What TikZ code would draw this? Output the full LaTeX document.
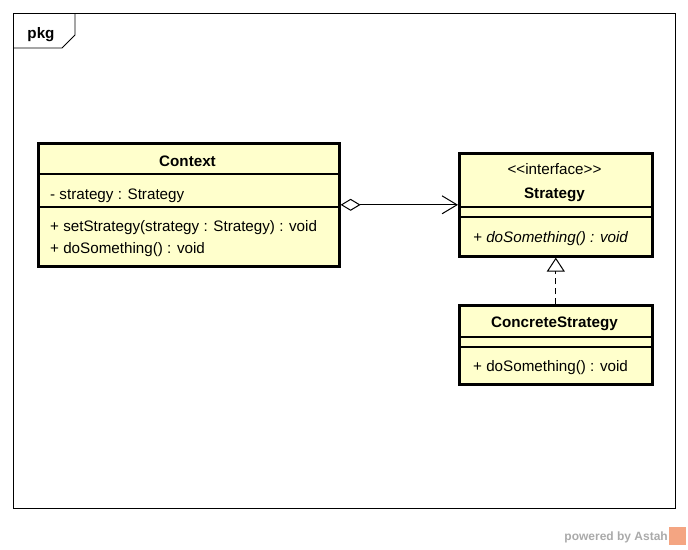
\documentclass[tikz,border=0pt]{standalone}
\usepackage{fontspec}
\setmainfont{Liberation Sans}[Ligatures=TeXOff]
\usetikzlibrary{arrows.meta}
\definecolor{classfill}{HTML}{FFFFCC}
\definecolor{astahgray}{HTML}{AAAAAA}
\definecolor{astahorange}{HTML}{F4A582}
\tikzset{
  classbox/.style={draw=black, line width=2.6pt, fill=classfill, inner sep=0pt, anchor=north west},
  sepline/.style={draw=black, line width=1.3pt},
  frameline/.style={draw=black, line width=0.9pt},
  umltext/.style={inner sep=0pt, font=\fontsize{15.2}{18}\selectfont},
  umltitle/.style={inner sep=0pt, font=\bfseries\fontsize{15.2}{18}\selectfont},
  umlital/.style={inner sep=0pt, font=\itshape\fontsize{15.2}{18}\selectfont},
  assoc/.style={draw=black, line width=1pt},
  realize/.style={draw=black, line width=1pt, dash pattern=on 6pt off 4pt}
}
\begin{document}
\begin{tikzpicture}[x=1pt,y=-1pt]
\useasboundingbox (0,0) rectangle (688,549);
% package frame
\draw[frameline] (13,13) rectangle (675,508);
\draw[frameline] (13,48) -- (62,48) -- (75,35) -- (75,13);
\node[umltitle, anchor=base] (pkg) at (41,38) {pkg};

% Context class
\node[classbox, minimum width=301pt, minimum height=123pt] (ctx) at (37,142) {};
\draw[sepline] (ctx.west |- 0,174) -- (ctx.east |- 0,174);
\draw[sepline] (ctx.west |- 0,207) -- (ctx.east |- 0,207);
\node[umltitle, anchor=base] (ctxname) at (187.5,166) {Context};
\node[umltext, anchor=base west] (ctxattr) at (50,199) {- strategy : Strategy};
\node[umltext, anchor=base west] (ctxop1) at (50,231) {+ setStrategy(strategy : Strategy) : void};
\node[umltext, anchor=base west] (ctxop2) at (50,253) {+ doSomething() : void};

% Strategy interface
\node[classbox, minimum width=193pt, minimum height=103pt] (str) at (458,152) {};
\draw[sepline] (str.west |- 0,207) -- (str.east |- 0,207);
\draw[sepline] (str.west |- 0,217) -- (str.east |- 0,217);
\node[umltext, anchor=base] (strstereo) at (554.5,174) {<<interface>>};
\node[umltitle, anchor=base] (strname) at (554.5,198) {Strategy};
\node[umlital, anchor=base west] (strop) at (473,242) {+ doSomething() : void};

% ConcreteStrategy class
\node[classbox, minimum width=193pt, minimum height=79pt] (con) at (458,304) {};
\draw[sepline] (con.west |- 0,337) -- (con.east |- 0,337);
\draw[sepline] (con.west |- 0,347) -- (con.east |- 0,347);
\node[umltitle, anchor=base] (conname) at (554.5,327) {ConcreteStrategy};
\node[umltext, anchor=base west] (conop) at (473,371) {+ doSomething() : void};

% connectors
\draw[assoc, {Diamond[open,length=20pt,width=12pt,line width=1pt]}-{Straight Barb[length=15pt,width=18pt,line width=1pt]}] (ctx.east) -- (str.west);
\draw[realize, -{Triangle[open,length=14pt,width=18pt,line width=1pt]}] (con.north) -- (str.south);

% footer
\node[anchor=base east, inner sep=0pt, text=astahgray, font=\bfseries\fontsize{12}{14}\selectfont] (powered) at (668,540) {powered by Astah};
\node[fill=astahorange, inner sep=0pt, minimum width=17pt, minimum height=18pt, anchor=north west] (logo) at (669,527) {};
\end{tikzpicture}
\end{document}
